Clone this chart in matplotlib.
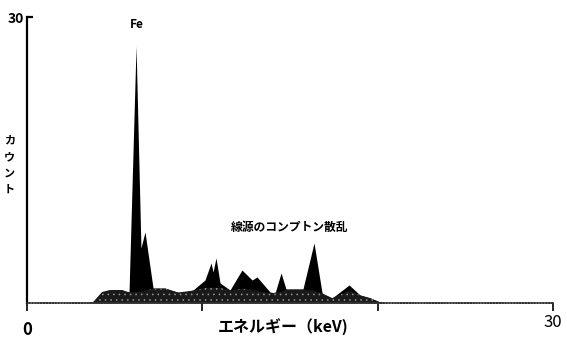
"""EDX-style fluorescence spectrum: Fe peak plus Compton scatter of the source."""
import numpy as np
import matplotlib
matplotlib.use("Agg")
import matplotlib.pyplot as plt

plt.rcParams["font.family"] = ["Noto Sans CJK JP", "DejaVu Sans"]
plt.rcParams["hatch.color"] = "#9a9a9a"
plt.rcParams["hatch.linewidth"] = 0.4

# spectrum outline (keV, counts)
energy = [0.0, 3.31, 3.77, 4.28, 4.73, 5.42, 5.76, 5.82, 6.22, 6.50, 6.73, 7.19,
          7.87, 8.73, 9.47, 10.15, 10.50, 10.61, 10.78, 11.01, 11.58, 11.75, 12.26,
          12.84, 13.12, 13.86, 14.15, 14.49, 14.77, 15.74, 16.37, 16.83, 17.40,
          18.37, 18.99, 19.57, 20.14, 20.42, 30.0]
counts = [0.0, 0.0, 0.1, 1.15, 1.36, 1.36, 1.15, 1.15, 26.97, 5.77, 7.45, 1.57,
          1.57, 1.05, 1.36, 2.41, 4.20, 3.25, 4.72, 2.10, 1.36, 1.89, 3.46,
          2.41, 2.73, 1.15, 1.05, 3.15, 1.47, 1.47, 6.30, 1.05, 0.52,
          1.89, 0.84, 0.52, 0.1, 0.0, 0.0]

# continuum band (stippled part under the peaks)
bg_energy = [3.31, 3.77, 4.28, 4.73, 5.42, 5.76, 6.5, 7.2, 7.9, 8.6, 9.5, 10.2,
             11.0, 11.6, 12.3, 13.1, 13.9, 14.5, 14.8, 15.7, 16.4, 16.8, 17.4,
             18.4, 19.0, 19.6, 20.1, 20.42]
bg_counts = [0.0, 0.1, 1.15, 1.36, 1.36, 1.15, 1.2, 1.5, 1.5, 1.1, 1.3, 1.6,
             1.6, 1.3, 1.5, 1.3, 1.0, 1.2, 1.4, 1.4, 1.3, 1.0, 0.5,
             1.3, 0.8, 0.5, 0.1, 0.0]

x_ticks = [0, 10, 20, 30]

fig = plt.figure(figsize=(5.67, 3.38), dpi=100)
ax = fig.add_axes([0.0476, 0.1036, 0.9277, 0.846])

ax.fill_between(energy, counts, 0, color="black", lw=0)
ax.fill_between(bg_energy, bg_counts, 0, facecolor="#1a1a1a", hatch="...", lw=0)

ax.set_xlim(0, 30)
ax.set_ylim(0, 30)
for s in ("top", "right"):
    ax.spines[s].set_visible(False)
ax.spines["left"].set_linewidth(1.6)
ax.spines["bottom"].set_linewidth(1.1)
ax.spines["bottom"].set_color("#333333")
ax.spines["bottom"].set_linestyle((0, (1.5, 0.4)))

ax.set_xticks(x_ticks)
ax.set_xticklabels([])
ax.tick_params(axis="x", direction="out", length=6, width=1.2, color="black")
ax.set_yticks([30])
ax.set_yticklabels(["30"], fontsize=10, fontweight="bold")
ax.tick_params(axis="y", direction="in", length=4, width=1.6, pad=2)

ax.text(0, -2.8, "0", ha="center", va="center", fontsize=12, fontweight="bold")
ax.text(30, -2.0, "30", ha="center", va="center", fontsize=12)
ax.text(14.6, -2.6, "エネルギー（keV)", ha="center", va="center",
        fontsize=11.5, fontweight="bold")
ax.text(-1.0, 14.5, "カ\nウ\nン\nト", ha="center", va="center",
        fontsize=8, fontweight="bold", linespacing=1.35)
ax.text(6.27, 29.2, "Fe", ha="center", va="center", fontsize=8.5,
        fontweight="bold")
ax.text(15.0, 7.9, "線源のコンプトン散乱", ha="center", va="center",
        fontsize=8.5, fontweight="bold")

for t in ax.texts:
    t.set_clip_on(False)

fig.savefig("out.png", dpi=100)
